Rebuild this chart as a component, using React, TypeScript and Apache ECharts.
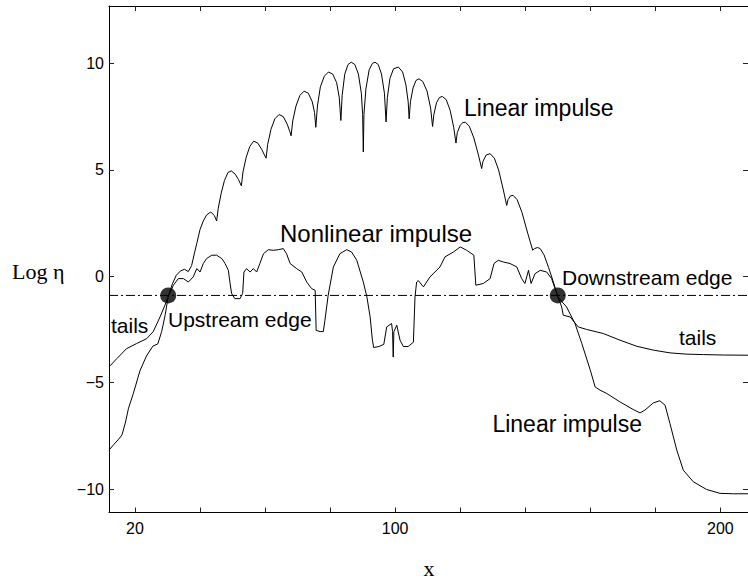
import React, { useEffect, useRef } from "react";
import * as echarts from "echarts";

// ---- axes ----
const X_MIN = 12;
const X_MAX = 208.5;
const Y_MIN = -11.1;
const Y_MAX = 12.7;
const X_TICKS = [20, 40, 60, 80, 100, 120, 140, 160, 180, 200];
const X_LABELS = [20, 100, 200];
const Y_TICKS = [-10, -5, 0, 5, 10];

// ---- edges ----
const EDGE_LEVEL = -0.9;
const EDGE_X = [30.2, 150];

// ---- linear impulse (x, log eta) ----
const LINEAR_IMPULSE: [number, number][] = [
  [12, -8.17], [13.5, -7.9], [15, -7.65], [16, -7.45], [17, -6.9], [18, -6.2], [19.5, -5.5],
  [21.5, -4.45], [23.5, -3.75], [25.5, -3.28], [27, -3.18], [28.2, -2.6], [29.3, -1.8], [30.2, -0.95],
  [31.5, -0.35], [32.7, 0.05], [34, 0.25], [35.2, 0.33], [36.4, 0.22], [37.4, 0.5], [38.3, 1.1],
  [39, 1.55], [40, 2.2], [41, 2.6], [42, 2.88], [43.3, 3.02], [44.4, 2.85], [45.1, 2.6],
  [45.6, 3.2], [46.5, 3.9], [47.5, 4.5], [48.6, 4.88], [49.6, 4.95], [50.8, 4.8], [51.8, 4.55], [52.7, 4.25],
  [53.2, 4.9], [54.2, 5.6], [55.3, 6.1], [56.5, 6.35], [57.8, 6.25], [59, 5.95], [59.8, 5.7], [60.3, 5.55],
  [60.8, 6.2], [61.8, 6.9], [63, 7.4], [64.3, 7.6], [65.6, 7.5], [66.8, 7.15], [67.6, 6.8], [68, 6.6],
  [68.5, 7.3], [69.5, 8.0], [70.7, 8.5], [72, 8.7], [73.3, 8.6], [74.5, 8.2], [75.2, 7.7], [75.6, 7.0],
  [76.1, 8.0], [77, 8.9], [78.2, 9.4], [79.5, 9.6], [80.8, 9.5], [82, 9.1], [82.8, 8.4], [83.3, 7.32],
  [83.7, 8.5], [84.5, 9.5], [85.5, 9.95], [86.5, 10.06], [87.6, 9.95], [88.7, 9.5], [89.6, 8.6], [90.0, 7.6], [90.2, 5.84],
  [90.4, 7.6], [91, 8.8], [92, 9.7], [93, 10.0], [93.8, 10.06], [94.8, 9.95], [95.8, 9.5], [96.7, 8.6], [97.2, 7.25],
  [97.6, 8.4], [98.4, 9.3], [99.5, 9.75], [101, 9.83], [102.3, 9.6], [103.3, 9.0], [104, 8.2], [104.3, 7.4],
  [104.7, 8.2], [105.5, 8.85], [106.4, 9.2], [107.3, 9.28], [108.5, 9.15], [109.8, 8.7], [110.9, 7.9], [111.5, 7.04],
  [111.9, 7.6], [112.7, 8.15], [113.6, 8.4], [114.5, 8.45], [115.7, 8.3], [116.9, 7.8], [118, 7.0], [118.7, 6.26],
  [119.1, 6.75], [120, 7.1], [120.8, 7.22], [121.6, 7.24], [122.8, 7.05], [124.2, 6.5], [125.6, 5.7], [126.6, 5.06],
  [127, 5.4], [128, 5.7], [129.2, 5.76], [130.5, 5.55], [131.8, 5.0], [133.2, 4.1], [134.3, 3.33],
  [134.7, 3.6], [135.5, 3.78], [136.3, 3.8], [137.5, 3.6], [139, 3.0], [140.8, 2.0], [142.3, 1.22],
  [142.8, 1.3], [143.8, 1.35], [144.6, 1.3], [145.8, 1.0], [147.2, 0.4], [148.5, -0.2], [149.7, -0.8], [150, -0.95],
  [151.3, -1.2], [152.7, -1.44], [155.3, -2.22], [157.4, -3.16], [160, -4.41], [161.5, -5.2], [163, -5.35],
  [165.1, -5.51], [169.1, -5.9], [173.2, -6.26], [175.3, -6.42], [176.8, -6.29], [179.4, -5.95], [181.4, -5.85],
  [183, -6.06], [184.5, -6.92], [186.6, -8.17], [188.6, -9.11], [191.7, -9.66], [195.8, -10.02], [199.9, -10.2],
  [204, -10.22], [208.5, -10.22],
];

// ---- nonlinear impulse with tails (x, log eta) ----
const NONLINEAR_IMPULSE: [number, number][] = [
  [12, -4.26], [14.4, -3.87], [17.4, -3.4], [20.5, -3.16], [23.6, -2.93], [25.6, -2.6], [27.7, -1.91],
  [29.2, -1.36], [30.2, -0.95], [31.8, -0.42], [33.3, -0.11], [34.9, -0.11], [36.4, -0.27], [37.9, -0.03],
  [39, 0.36], [40, 0.2], [41, 0.6], [42, 0.83], [43.6, 0.99], [45.1, 0.99], [46.7, 0.83], [47.7, 0.6],
  [48.2, 0.44], [48.7, 0.28], [49.2, -0.3], [49.7, -0.81], [50.7, -1.05], [52.3, -1.05], [53.1, -0.81],
  [53.5, 0.2], [54.3, 0.36], [55.4, 0.2], [56.4, 0.36], [57.4, 0.2], [58.4, 0.6], [59.5, 1.06], [61, 1.25],
  [62.5, 1.22], [64.1, 1.25], [65.6, 1.3], [66.6, 1.06], [67.7, 0.6], [69.7, 0.36], [71.3, 0.2], [72.8, -0.27],
  [74.3, -0.58], [75.4, -0.66], [75.7, -2.54], [76.9, -2.6], [77.9, -2.6], [78.4, -2.07], [79.4, -0.89],
  [81, 0.44], [83, 1.06], [85.1, 1.25], [86.6, 1.14], [88.2, 0.75], [90.2, -0.27], [91.3, -0.97], [92.3, -1.91],
  [93, -3.0], [93.4, -3.35], [95, -3.3], [96.5, -3.2], [97.4, -2.38], [98.9, -2.22], [99.2, -2.6], [99.4, -3.8],
  [99.6, -2.6], [100.5, -2.3], [101.5, -3.0], [102.5, -3.3], [104, -3.3], [105.6, -3.1], [106.1, -0.97],
  [106.6, -0.27], [107.1, -0.2], [108.7, -0.5], [110.7, -0.03], [113.8, 0.44], [115.3, 0.91], [117.9, 1.14],
  [120, 1.38], [122, 1.22], [124.2, 0.99], [124.8, -0.42], [127.1, -0.34], [129.2, -0.11], [130.4, 0.6],
  [131.7, 0.75], [133.3, 0.67], [135.3, 0.6], [137.4, 0.44], [138.9, -0.11], [139.9, -0.34], [141, 0.28],
  [141.8, -0.34], [143, 0.12], [144.6, 0.28], [146.6, 0.2], [148.1, -0.11], [149.7, -0.81], [150, -0.95],
  [151.2, -1.44], [151.7, -1.83], [153.8, -1.91], [156.3, -2.38], [158.9, -2.5], [164, -2.69], [169.1, -3.0],
  [174.3, -3.29], [179.4, -3.47], [184.5, -3.6], [189.7, -3.66], [194.8, -3.68], [201, -3.7], [208.5, -3.71],
];

// ---- annotations ----
const ANNOTATIONS = [
  { text: "Linear impulse", x: 464, y: 108, size: 23, align: "left" },
  { text: "Nonlinear impulse", x: 280, y: 233, size: 24, align: "left" },
  { text: "Downstream edge", x: 562, y: 277, size: 21, align: "left" },
  { text: "Upstream edge", x: 168, y: 319, size: 21, align: "left" },
  { text: "tails", x: 111, y: 325, size: 21, align: "left" },
  { text: "tails", x: 679, y: 337, size: 21, align: "left" },
  { text: "Linear impulse", x: 642, y: 424, size: 23, align: "right" },
];

const SANS = "'Liberation Sans', Arial, Helvetica, sans-serif";
const SERIF = "'Liberation Serif', 'Times New Roman', serif";

const fmt = (v: number) => (v < 0 ? "\u2212" + Math.abs(v) : String(v));

export default function App() {
  const ref = useRef<HTMLDivElement>(null);
  useEffect(() => {
    if (!ref.current) return;
    const chart = echarts.init(ref.current, null, { renderer: "svg" });
    const axisLine = { show: true, onZero: false, lineStyle: { color: "#000", width: 1 } };
    const tickStyle = { color: "#222", width: 1 };
    chart.setOption({
      animation: false,
      backgroundColor: "#fff",
      grid: { left: 109, top: 6, width: 639, height: 506.5, containLabel: false },
      xAxis: [
        {
          type: "value", min: X_MIN, max: X_MAX, position: "bottom",
          axisLine, splitLine: { show: false },
          axisTick: { show: true, inside: true, length: 5, customValues: X_TICKS, lineStyle: tickStyle },
          axisLabel: { show: true, customValues: X_LABELS, margin: 8, color: "#000", fontSize: 16, fontFamily: SANS },
        },
        {
          type: "value", min: X_MIN, max: X_MAX, position: "top",
          axisLine, splitLine: { show: false },
          axisTick: { show: true, inside: true, length: 5, customValues: X_TICKS, lineStyle: tickStyle },
          axisLabel: { show: false },
        },
      ],
      yAxis: [
        {
          type: "value", min: Y_MIN, max: Y_MAX, position: "left",
          axisLine, splitLine: { show: false },
          axisTick: { show: true, inside: true, length: 5, customValues: Y_TICKS, lineStyle: tickStyle },
          axisLabel: { show: true, customValues: Y_TICKS, margin: 5, color: "#000", fontSize: 16, fontFamily: SANS, formatter: fmt },
        },
        {
          type: "value", min: Y_MIN, max: Y_MAX, position: "right",
          axisLine, splitLine: { show: false },
          axisTick: { show: true, inside: true, length: 5, customValues: Y_TICKS, lineStyle: tickStyle },
          axisLabel: { show: false },
        },
      ],
      series: [
        {
          name: "Linear impulse", type: "line", data: LINEAR_IMPULSE, showSymbol: false,
          lineStyle: { color: "#000", width: 1 }, silent: true,
        },
        {
          name: "Nonlinear impulse", type: "line", data: NONLINEAR_IMPULSE, showSymbol: false,
          lineStyle: { color: "#000", width: 1 }, silent: true,
        },
        {
          name: "Edge level", type: "line", data: [[X_MIN, EDGE_LEVEL], [X_MAX, EDGE_LEVEL]], showSymbol: false,
          lineStyle: { color: "#000", width: 1, type: [9, 3, 2, 3] }, silent: true,
        },
        {
          name: "Edges", type: "scatter", data: EDGE_X.map((x) => [x, EDGE_LEVEL]), symbolSize: 16,
          itemStyle: { color: "#000" }, silent: true, z: 5,
        },
      ],
      graphic: [
        ...ANNOTATIONS.map((a) => ({
          type: "text", x: a.x, y: a.y, silent: true,
          style: {
            text: a.text, fill: "#000", fontSize: a.size, fontFamily: SANS,
            textAlign: a.align, textVerticalAlign: "middle", align: a.align, verticalAlign: "middle",
          },
        })),
        {
          type: "text", x: 12, y: 271, silent: true,
          style: { text: "Log η", fill: "#000", fontSize: 22, fontFamily: SERIF, textAlign: "left", textVerticalAlign: "middle", align: "left", verticalAlign: "middle" },
        },
        {
          type: "text", x: 429, y: 568, silent: true,
          style: { text: "x", fill: "#000", fontSize: 22, fontFamily: SERIF, textAlign: "center", textVerticalAlign: "middle", align: "center", verticalAlign: "middle" },
        },
      ],
    });
    return () => chart.dispose();
  }, []);
  return <div ref={ref} style={{ position: "fixed", left: 0, top: 0, width: 748, height: 579 }} />;
}
